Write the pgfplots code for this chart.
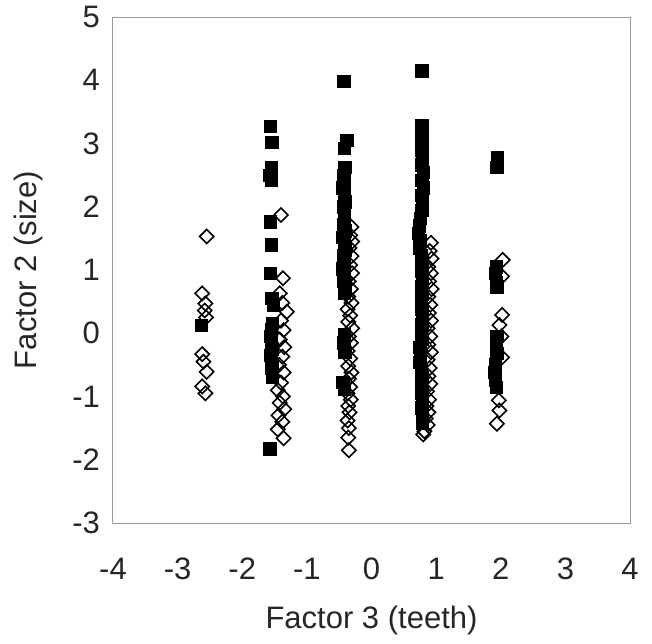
\documentclass[border=0pt]{standalone}
\usepackage{pgfplots}
\pgfplotsset{compat=1.18}
\usepackage{fontspec}
\setmainfont{Liberation Sans}
\definecolor{frame}{HTML}{9A9A9A}
\definecolor{ink}{HTML}{262626}
\begin{document}
\begin{tikzpicture}
\path[use as bounding box] (-56.5pt,-60pt) rectangle (269.5pt,261.5pt);
\begin{axis}[
  at={(0,0)}, anchor=south west,
  scale only axis, width=258.5pt, height=253pt,
  xmin=-4, xmax=4, ymin=-3, ymax=5,
  xtick={-4,-3,-2,-1,0,1,2,3,4},
  ytick={-3,-2,-1,0,1,2,3,4,5},
  major tick length=0pt,
  axis line style={draw=frame, line width=0.5pt},
  /pgf/number format/assume math mode=true,
  tick label style={font=\fontsize{15.5}{18}\selectfont, text=ink},
  xticklabel style={yshift=-14pt},
  yticklabel style={xshift=-3pt},
  xlabel={Factor 3 (teeth)},
  ylabel={Factor 2 (size)},
  label style={font=\fontsize{15.5}{18}\selectfont, text=ink},
  xlabel style={at={([yshift=-48.5pt]axis description cs:0.5,0)}, anchor=center},
  ylabel style={at={([xshift=-42.5pt]axis description cs:0,0.5)}, anchor=center},
  clip=false,
]
% open diamonds
\addplot[only marks, mark=square, mark size=2.5pt,
  mark options={rotate=45, draw=black, line width=0.8pt, fill=none}]
coordinates {
  (-2.55,1.53) (-2.62,0.63) (-2.57,0.47) (-2.58,0.36) (-2.56,0.25)
  (-2.62,-0.33) (-2.60,-0.45) (-2.55,-0.61) (-2.62,-0.84) (-2.57,-0.95)
  (-1.40,1.87) (-1.37,0.87) (-1.42,0.63) (-1.38,0.48) (-1.31,0.34)
  (-1.40,0.20) (-1.36,0.05) (-1.42,-0.10) (-1.35,-0.22) (-1.38,-0.37)
  (-1.43,-0.50) (-1.36,-0.62) (-1.40,-0.78) (-1.45,-0.90) (-1.37,-1.00)
  (-1.42,-1.10) (-1.35,-1.20) (-1.44,-1.30) (-1.38,-1.40) (-1.45,-1.52)
  (-1.36,-1.66)
  (-0.31,1.68) (-0.33,1.55) (-0.30,1.45) (-0.34,1.35) (-0.31,1.22)
  (-0.33,1.08) (-0.30,0.95) (-0.35,0.82) (-0.32,0.70) (-0.36,0.58)
  (-0.31,0.48) (-0.37,0.38) (-0.33,0.28) (-0.36,0.18) (-0.30,0.08)
  (-0.35,-0.05) (-0.32,-0.15) (-0.37,-0.28) (-0.33,-0.40) (-0.36,-0.52)
  (-0.31,-0.62) (-0.35,-0.72) (-0.33,-0.85) (-0.37,-0.95) (-0.32,-1.05)
  (-0.36,-1.15) (-0.34,-1.25) (-0.37,-1.38) (-0.35,-1.50) (-0.36,-1.65)
  (-0.35,-1.85)
  (0.92,1.43) (0.90,1.30) (0.93,1.18) (0.88,1.05) (0.92,0.95)
  (0.89,0.82) (0.93,0.70) (0.88,0.58) (0.91,0.45) (0.89,0.32)
  (0.92,0.20) (0.87,0.08) (0.91,-0.05) (0.88,-0.18) (0.92,-0.30)
  (0.87,-0.42) (0.90,-0.55) (0.88,-0.68) (0.91,-0.80) (0.86,-0.92)
  (0.89,-1.05) (0.85,-1.15) (0.88,-1.25) (0.84,-1.35) (0.87,-1.45)
  (0.82,-1.55) (0.80,-1.60)
  (2.03,1.16) (2.02,0.90) (2.02,0.29) (1.98,0.13) (2.01,-0.05)
  (2.02,-0.38) (1.97,-1.06) (1.98,-1.22) (1.94,-1.43)
};
% filled squares
\addplot[only marks, mark=square*, mark size=3.1pt,
  mark options={draw=black, fill=black}]
coordinates {
  (-2.63,0.12)
  (-1.56,3.27) (-1.54,3.02) (-1.55,2.62) (-1.57,2.50) (-1.55,2.42)
  (-1.56,1.76) (-1.55,1.40) (-1.56,0.95) (-1.54,0.55) (-1.52,0.45)
  (-1.53,0.16) (-1.55,0.05) (-1.56,-0.05) (-1.55,-0.15) (-1.54,-0.25)
  (-1.56,-0.35) (-1.55,-0.45) (-1.54,-0.55) (-1.53,-0.70) (-1.57,-1.83)
  (-0.43,3.98) (-0.38,3.05) (-0.42,2.92) (-0.41,2.62) (-0.43,2.50)
  (-0.42,2.40) (-0.44,2.30) (-0.42,2.20) (-0.41,2.08) (-0.43,2.00)
  (-0.42,1.82) (-0.43,1.72) (-0.41,1.62) (-0.44,1.52) (-0.42,1.42)
  (-0.41,1.32) (-0.43,1.22) (-0.42,1.12) (-0.44,1.02) (-0.42,0.92)
  (-0.43,0.82) (-0.41,0.72) (-0.42,0.64) (-0.42,-0.02) (-0.43,-0.15)
  (-0.41,-0.30) (-0.44,-0.78) (-0.42,-0.88)
  (0.78,4.15)
  (0.78,3.28) (0.78,3.15) (0.78,3.02) (0.78,2.90) (0.79,2.78)
  (0.78,2.66) (0.80,2.54) (0.78,2.42) (0.80,2.30) (0.78,2.18)
  (0.79,2.06) (0.78,1.94) (0.76,1.82) (0.74,1.70) (0.73,1.58)
  (0.75,1.46) (0.74,1.34) (0.77,1.22) (0.78,1.10) (0.78,0.98)
  (0.79,0.86) (0.78,0.74) (0.78,0.62) (0.77,0.50) (0.78,0.38)
  (0.79,0.26) (0.78,0.14) (0.77,0.02) (0.78,-0.10) (0.75,-0.22)
  (0.76,-0.34) (0.75,-0.46) (0.77,-0.58) (0.78,-0.70) (0.77,-0.82)
  (0.78,-0.94) (0.79,-1.06) (0.78,-1.18) (0.79,-1.30) (0.79,-1.42)
  (1.95,2.78) (1.94,2.62) (1.93,1.05) (1.92,0.95) (1.93,0.80)
  (1.94,0.73) (1.94,-0.05) (1.93,-0.18) (1.94,-0.32) (1.92,-0.50)
  (1.91,-0.62) (1.92,-0.75) (1.93,-0.86)
};
\end{axis}
\end{tikzpicture}
\end{document}
